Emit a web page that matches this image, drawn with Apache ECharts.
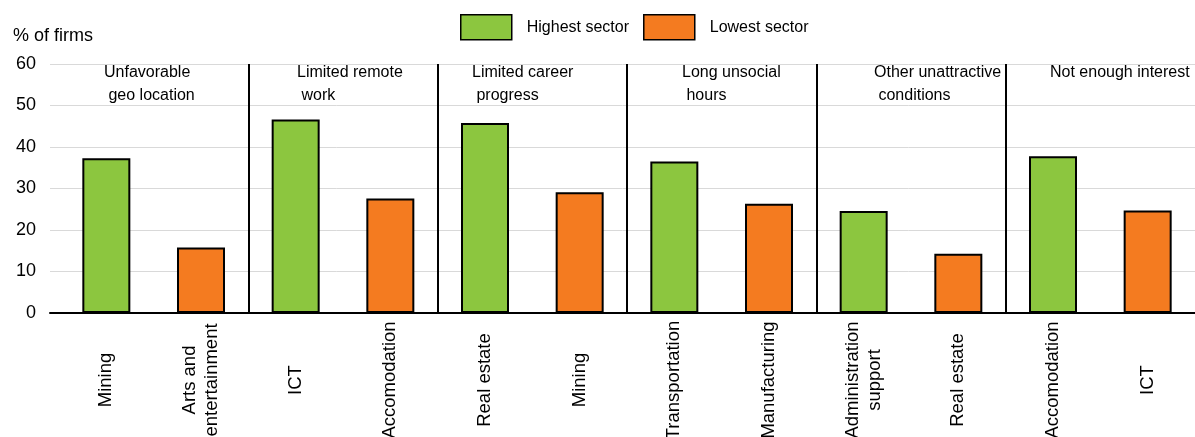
<!DOCTYPE html>
<html>
<head>
<meta charset="utf-8">
<script src="https://cdn.jsdelivr.net/npm/echarts@6/dist/echarts.min.js"></script>
<style>
html,body{margin:0;padding:0;background:#fff;}
#chart{width:1195px;height:437px;}
</style>
</head>
<body>
<div id="chart"></div>
<script>
// ---- data ----
const categories = ['Mining', 'Arts and\nentertainment', 'ICT', 'Accomodation', 'Real estate', 'Mining',
  'Transportation', 'Manufacturing', 'Administration\nsupport', 'Real estate', 'Accomodation', 'ICT'];
const highestValues = [37.3, 46.6, 45.8, 36.5, 24.6, 37.8];
const lowestValues = [15.8, 27.6, 29.1, 26.3, 14.3, 24.7];
const groupNames = ['Unfavorable\n geo location', 'Limited remote\n work', 'Limited career\n progress',
  'Long unsocial\n hours', 'Other unattractive\n conditions', 'Not enough interest'];
const yTicks = [0, 10, 20, 30, 40, 50, 60];
const seriesNames = ['Highest sector', 'Lowest sector'];

// ---- layout (not data) ----
const groupLabelLeft = [104, 297, 472, 682, 874, 1050];
const FONT = '"Liberation Sans", Arial, sans-serif';
const GREEN = '#8cc63f', ORANGE = '#f47b20';

const highest = categories.map((c, i) => (i % 2 === 0 ? highestValues[i / 2] : '-'));
const lowest = categories.map((c, i) => (i % 2 === 1 ? lowestValues[(i - 1) / 2] : '-'));

const chart = echarts.init(document.getElementById('chart'), null, {renderer: 'canvas'});
const option = {
  animation: false,
  textStyle: {fontFamily: FONT, color: '#000'},
  title: {text: '% of firms', left: 8, top: 22, textStyle: {fontSize: 18, fontWeight: 'normal', color: '#000', fontFamily: FONT}},
  legend: {
    left: 460, top: 14, padding: 0,
    icon: 'rect',
    itemWidth: 51, itemHeight: 25, itemGap: 14,
    textStyle: {fontSize: 16, color: '#000', fontFamily: FONT, padding: [0, 0, 0, 10]},
    itemStyle: {borderColor: '#000', borderWidth: 1.5},
    data: seriesNames
  },
  grid: [
    {left: 50, right: 0, top: 64, bottom: 124, outerBoundsMode: 'none', containLabel: false},
    {left: 59, right: 0, top: 64, bottom: 124, outerBoundsMode: 'none', containLabel: false}
  ],
  xAxis: [
    {gridIndex: 0, type: 'value', min: 0, max: 1, axisLabel: {show: false}, axisTick: {show: false}, splitLine: {show: false},
      axisLine: {show: true, lineStyle: {color: '#000', width: 2}}},
    {gridIndex: 1, type: 'category', data: categories, boundaryGap: true,
      axisLine: {show: false}, axisTick: {show: false},
      axisLabel: {interval: 0, rotate: 90, align: 'center', verticalAlign: 'middle', margin: 67,
        fontSize: 18.5, lineHeight: 22, color: '#000', fontFamily: FONT},
      splitLine: {show: true, showMinLine: true, showMaxLine: false,
        interval: function (index) { return index > 0 && index < categories.length && index % 2 === 0; },
        lineStyle: {color: '#000', width: 2}}}
  ],
  yAxis: [
    {gridIndex: 0, type: 'value', min: yTicks[0], max: yTicks[yTicks.length - 1], interval: 10,
      axisLine: {show: false}, axisTick: {show: false},
      axisLabel: {margin: 14, fontSize: 18, color: '#000', fontFamily: FONT},
      splitLine: {show: true, lineStyle: {color: '#d9d9d9', width: 1}}},
    {gridIndex: 1, type: 'value', min: yTicks[0], max: yTicks[yTicks.length - 1], interval: 10, show: false}
  ],
  series: [
    {name: seriesNames[0], type: 'bar', xAxisIndex: 1, yAxisIndex: 1, data: highest, barWidth: 48, barGap: '-100%',
      itemStyle: {color: GREEN, borderColor: '#000', borderWidth: 2}},
    {name: seriesNames[1], type: 'bar', xAxisIndex: 1, yAxisIndex: 1, data: lowest, barWidth: 48, barGap: '-100%',
      itemStyle: {color: ORANGE, borderColor: '#000', borderWidth: 2}}
  ],
  graphic: groupNames.map((t, i) => ({
    type: 'text', left: groupLabelLeft[i], top: 61, silent: true,
    style: {text: t, fontSize: 16, lineHeight: 23, fill: '#000', font: '16px ' + FONT, align: 'left'}
  }))
};
chart.setOption(option);
</script>
</body>
</html>
